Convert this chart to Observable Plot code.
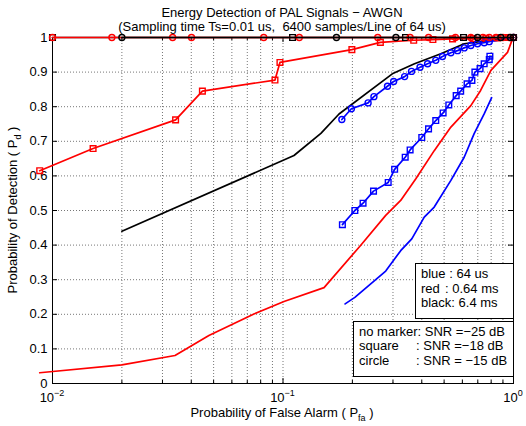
<!DOCTYPE html>
<html><head><meta charset="utf-8">
<script src="https://cdn.jsdelivr.net/npm/d3@7"></script>
<script src="https://cdn.jsdelivr.net/npm/@observablehq/plot@0.6"></script>
<style>
body{margin:0;background:#fff}
svg text{font-family:"Liberation Sans",Arial,sans-serif}
</style>
</head><body><div id="chart"></div>
<script>
// ---- tick data ----
const xMajor = [0.01, 0.1, 1];
const xMajorExp = ["\u22122", "\u22121", "0"];
const xMinor = [0.02,0.03,0.04,0.05,0.06,0.07,0.08,0.09,0.2,0.3,0.4,0.5,0.6,0.7,0.8,0.9];
const yTicks = [0,0.1,0.2,0.3,0.4,0.5,0.6,0.7,0.8,0.9,1];
const yTickLabels = ["0","0.1","0.2","0.3","0.4","0.5","0.6","0.7","0.8","0.9","1"];

// ---- series: SNR = -25 dB (no marker) ----
const blue25Pfa = [0.186,0.205,0.279,0.324,0.362,0.41,0.453,0.535,0.611,0.675,0.746,0.804];
const blue25Pd  = [0.23,0.249,0.325,0.384,0.418,0.481,0.51,0.587,0.654,0.722,0.779,0.826];
const red25Pfa  = [0.0088,0.02,0.034,0.0477,0.0748,0.101,0.1507,0.217,0.279,0.324,0.377,0.453,0.535,0.653,0.72,0.798,0.942,0.99,1];
const red25Pd   = [0.031,0.054,0.081,0.139,0.201,0.237,0.277,0.399,0.486,0.529,0.592,0.673,0.741,0.803,0.847,0.905,0.957,0.996,1];
const black25Pfa = [0.02,0.1116,0.146,0.175,0.298,0.372,0.484,0.611,0.77,1];
const black25Pd  = [0.44,0.659,0.723,0.779,0.895,0.924,0.953,0.982,0.991,1];

// ---- SNR = -18 dB (square) ----
const blue18Pfa = [0.181,0.205,0.2225,0.247,0.286,0.305,0.339,0.356,0.4,0.428,0.46,0.495,0.524,0.564,0.59,0.629,0.66,0.68,0.716,0.746,0.785,0.79];
const blue18Pd  = [0.459,0.5,0.521,0.556,0.581,0.619,0.654,0.675,0.711,0.736,0.76,0.782,0.805,0.832,0.845,0.866,0.876,0.9,0.91,0.924,0.936,0.946];
const red18Pfa  = [0.0088,0.015,0.0342,0.0447,0.0923,0.097,0.199,0.2645,0.369,0.447,0.544,0.668,0.759,0.85,0.95,1];
const red18Pd   = [0.615,0.679,0.762,0.845,0.877,0.928,0.965,0.986,0.992,0.994,0.996,0.997,0.998,0.999,1,1];
const black18Pfa = [0.01,0.11,0.34,0.607,1];
const black18Pd  = [1,1,1,1,1];

// ---- SNR = -15 dB (circle) ----
const blue15Pfa = [0.18,0.198,0.234,0.248,0.284,0.302,0.337,0.361,0.393,0.424,0.46,0.492,0.535,0.572,0.611,0.653,0.698,0.746,0.785,1];
const blue15Pd  = [0.763,0.794,0.811,0.829,0.859,0.873,0.887,0.902,0.914,0.924,0.934,0.945,0.956,0.962,0.97,0.977,0.982,0.985,0.988,1];
const red15Pfa  = [0.01,0.0181,0.0332,0.0401,0.0825,0.1177,0.2577,0.356,0.428,0.56,0.653,0.737,0.785,0.84,0.9,0.96,1];
const red15Pd   = [1,1,1,1,1,1,1,1,1,1,1,1,1,1,1,1,1];
const black15Pfa = [0.02,0.1706,0.309,0.698,0.881,0.97,1];
const black15Pd  = [1,1,1,1,1,1,1];

const rows = (a, b) => a.map((p, i) => ({pfa: p, pd: b[i]}));
const series = [
  {d: rows(blue25Pfa, blue25Pd), c: "#0000ff", m: null},
  {d: rows(red25Pfa, red25Pd), c: "#ff0000", m: null},
  {d: rows(black25Pfa, black25Pd), c: "#000000", m: null},
  {d: rows(blue18Pfa, blue18Pd), c: "#0000ff", m: "square"},
  {d: rows(red18Pfa, red18Pd), c: "#ff0000", m: "square"},
  {d: rows(black18Pfa, black18Pd), c: "#000000", m: "square"},
  {d: rows(blue15Pfa, blue15Pd), c: "#0000ff", m: "circle"},
  {d: rows(red15Pfa, red15Pd), c: "#ff0000", m: "circle"},
  {d: rows(black15Pfa, black15Pd), c: "#000000", m: "circle"}
];

const tickY = 5 / 346, tickYm = 3 / 346;
const tickXf = Math.pow(10, 5 / 230.3);

const marks = [
  Plot.ruleX(xMinor.concat([0.1]), {x: d => d, stroke: "#777", strokeWidth: 1, strokeDasharray: "1,2"}),
  Plot.ruleY(yTicks.slice(1, -1), {y: d => d, stroke: "#777", strokeWidth: 1, strokeDasharray: "1,2"}),
  Plot.frame({stroke: "black", strokeWidth: 1}),
  Plot.ruleX(xMajor, {x: d => d, y1: 0, y2: tickY, stroke: "black"}),
  Plot.ruleX(xMajor, {x: d => d, y1: 1, y2: 1 - tickY, stroke: "black"}),
  Plot.ruleX(xMinor, {x: d => d, y1: 0, y2: tickYm, stroke: "black"}),
  Plot.ruleX(xMinor, {x: d => d, y1: 1, y2: 1 - tickYm, stroke: "black"}),
  Plot.ruleY(yTicks, {y: d => d, x1: 0.01, x2: 0.01 * tickXf, stroke: "black"}),
  Plot.ruleY(yTicks, {y: d => d, x1: 1, x2: 1 / tickXf, stroke: "black"}),
  Plot.text(yTicks, {x: 0.01, y: d => d, text: (d, i) => yTickLabels[i], textAnchor: "end", dx: -5, fontSize: 13, fill: "black"})
];
for (const s of series) {
  marks.push(Plot.line(s.d, {x: "pfa", y: "pd", stroke: s.c, strokeWidth: 1.7}));
  if (s.m) marks.push(Plot.dot(s.d, {x: "pfa", y: "pd", stroke: s.c, fill: "none", strokeWidth: 1.4, symbol: s.m, r: s.m === "square" ? 3.2 : 3}));
}

const plot = Plot.plot({
  width: 526, height: 426,
  marginLeft: 52, marginRight: 13, marginTop: 37, marginBottom: 43,
  x: {type: "log", domain: [0.01, 1], axis: null},
  y: {domain: [0, 1], axis: null},
  style: {fontFamily: "Liberation Sans, Arial, sans-serif", fontSize: "13px", background: "white"},
  marks
});
document.getElementById("chart").appendChild(plot);

const svg = d3.select(plot);
const xs = plot.scale("x"), ys = plot.scale("y");
const ff = "Liberation Sans, Arial, sans-serif";

// x tick labels with superscript exponents
xMajor.forEach((v, i) => {
  const t = svg.append("text").attr("x", xs.apply(v)).attr("y", ys.apply(0) + 19)
    .attr("text-anchor", "middle").attr("font-size", 13).attr("font-family", ff).attr("fill", "black");
  t.append("tspan").text("10");
  t.append("tspan").attr("dy", -6).attr("font-size", 9).text(xMajorExp[i]);
});

// titles
svg.append("text").attr("x", 282).attr("y", 17).attr("text-anchor", "middle").attr("font-size", 13).attr("font-family", ff)
  .text("Energy Detection of PAL Signals \u2212 AWGN");
svg.append("text").attr("x", 282).attr("y", 31).attr("text-anchor", "middle").attr("font-size", 13).attr("font-family", ff)
  .style("white-space", "pre").text("(Sampling time Ts=0.01 us,  6400 samples/Line of 64 us)");

// axis labels
const xl = svg.append("text").attr("x", 282).attr("y", 417).attr("text-anchor", "middle").attr("font-size", 13).attr("font-family", ff);
xl.append("tspan").text("Probability of False Alarm ( P");
xl.append("tspan").attr("dy", 4).attr("font-size", 9).text("fa");
xl.append("tspan").attr("dy", -4).text(" )");
const yl = svg.append("text").attr("transform", "translate(17,210) rotate(-90)").attr("text-anchor", "middle").attr("font-size", 13).attr("font-family", ff);
yl.append("tspan").text("Probability of Detection ( P");
yl.append("tspan").attr("dy", 4).attr("font-size", 9).text("d");
yl.append("tspan").attr("dy", -4).text(" )");

// legend boxes
function box(x, y, w, h, lines) {
  svg.append("rect").attr("x", x + 0.5).attr("y", y + 0.5).attr("width", w).attr("height", h)
    .attr("fill", "white").attr("stroke", "black").attr("stroke-width", 1);
  lines.forEach(l => {
    svg.append("text").attr("x", l[0]).attr("y", l[1]).attr("font-size", 13).attr("font-family", ff)
      .attr("text-anchor", "start").style("white-space", "pre").text(l[2]);
  });
}
box(415, 263, 98, 55, [
  [421, 278, "blue : 64 us"],
  [421, 292.5, "red"], [445, 292.5, ": 0.64 ms"],
  [421, 307, "black: 6.4 ms"]
]);
box(353, 321, 160, 55, [
  [359, 335.5, "no marker: SNR =\u221225 dB"],
  [359, 350, "square"], [416, 350, ": SNR =\u221218 dB"],
  [359, 364.5, "circle"], [416, 364.5, ": SNR = \u221215 dB"]
]);
</script>
</body></html>
